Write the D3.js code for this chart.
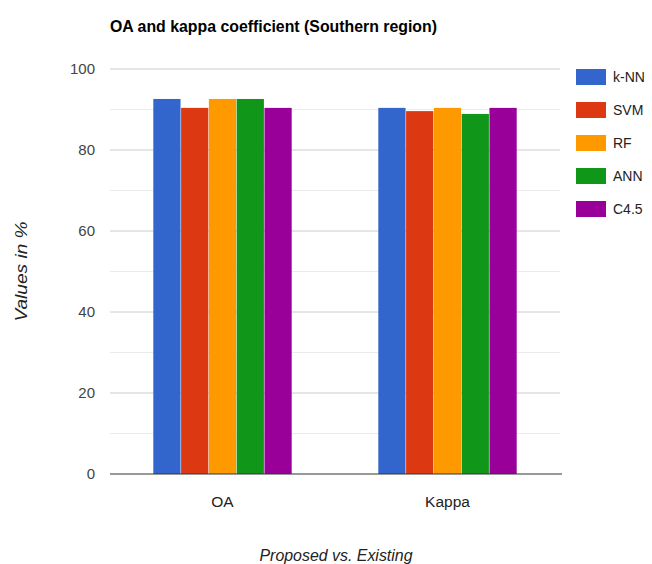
<!DOCTYPE html>
<html>
<head>
<meta charset="utf-8">
<script src="https://cdn.jsdelivr.net/npm/d3@7/dist/d3.min.js"></script>
<style>
  body { margin: 0; background: #fff; }
  svg { display: block; font-family: "Liberation Sans", Arial, sans-serif; }
</style>
</head>
<body>
<svg id="chart" width="652" height="564"></svg>
<script>
// Accuracy measures per classifier
const categories = ["OA", "Kappa"];
const seriesNames = ["k-NN", "SVM", "RF", "ANN", "C4.5"];
const seriesColors = ["#3366cc", "#dc3912", "#ff9900", "#109618", "#990099"];
const values = {
  "k-NN": [92.6, 90.4],
  "SVM":  [90.4, 89.6],
  "RF":   [92.6, 90.4],
  "ANN":  [92.6, 88.9],
  "C4.5": [90.4, 90.4]
};
const yTicks = [0, 20, 40, 60, 80, 100];
const yMinorTicks = [10, 30, 50, 70, 90];

const svg = d3.select("#chart");
const m = { left: 110, right: 92, top: 69, bottom: 90 };
const W = 652, H = 564;

const x0 = d3.scaleBand().domain(categories).range([m.left, W - m.right]).paddingInner(0).paddingOuter(0);
const x1 = d3.scaleBand().domain(seriesNames).range([0, x0.bandwidth() * 0.62]).padding(0.02);
const y = d3.scaleLinear().domain([0, 100]).range([H - m.bottom, m.top]);

// gridlines
svg.append("g").selectAll("line.minor").data(yMinorTicks).join("line")
  .attr("x1", m.left).attr("x2", W - m.right)
  .attr("y1", d => y(d)).attr("y2", d => y(d))
  .attr("stroke", "#ebebeb").attr("stroke-width", 1);
svg.append("g").selectAll("line.major").data(yTicks.filter(d => d > 0)).join("line")
  .attr("x1", m.left).attr("x2", W - m.right)
  .attr("y1", d => y(d)).attr("y2", d => y(d))
  .attr("stroke", "#cccccc").attr("stroke-width", 1);

// y tick labels
svg.append("g").selectAll("text").data(yTicks).join("text")
  .attr("x", m.left - 15).attr("y", d => y(d)).attr("dy", "0.35em")
  .attr("text-anchor", "end").attr("font-size", 15).attr("fill", "#444")
  .text(d => d);

// bars
const groups = svg.append("g").selectAll("g").data(categories).join("g")
  .attr("transform", c => `translate(${x0(c) + (x0.bandwidth() - x1.range()[1]) / 2},0)`);
groups.selectAll("rect").data((c, i) => seriesNames.map((s, k) => ({ s, v: values[s][i], color: seriesColors[k] }))).join("rect")
  .attr("x", d => x1(d.s)).attr("width", x1.bandwidth())
  .attr("y", d => y(d.v)).attr("height", d => y(0) - y(d.v))
  .attr("fill", d => d.color);

// baseline
svg.append("line").attr("x1", m.left).attr("x2", W - m.right + 2)
  .attr("y1", y(0)).attr("y2", y(0)).attr("stroke", "#333").attr("stroke-width", 1);

// category labels
svg.append("g").selectAll("text").data(categories).join("text")
  .attr("x", c => x0(c) + x0.bandwidth() / 2).attr("y", y(0) + 33)
  .attr("text-anchor", "middle").attr("font-size", 15.5).attr("fill", "#222")
  .text(c => c);

// title
svg.append("text").attr("x", 110).attr("y", 32)
  .attr("font-size", 16).attr("font-weight", "bold").attr("fill", "#000")
  .attr("textLength", 327).attr("lengthAdjust", "spacingAndGlyphs")
  .text("OA and kappa coefficient (Southern region)");

// axis titles
svg.append("text").attr("transform", `translate(27,${(y(0) + y(100)) / 2}) rotate(-90)`)
  .attr("text-anchor", "middle").attr("font-size", 16).attr("font-style", "italic").attr("fill", "#222")
  .attr("textLength", 100).attr("lengthAdjust", "spacingAndGlyphs")
  .text("Values in %");
svg.append("text").attr("x", 336).attr("y", 561)
  .attr("text-anchor", "middle").attr("font-size", 16.5).attr("font-style", "italic").attr("fill", "#222")
  .attr("textLength", 153).attr("lengthAdjust", "spacingAndGlyphs")
  .text("Proposed vs. Existing");

// legend
const legend = svg.append("g").selectAll("g").data(seriesNames).join("g")
  .attr("transform", (d, i) => `translate(576,${69 + i * 33})`);
legend.append("rect").attr("width", 30).attr("height", 16).attr("fill", (d, i) => seriesColors[i]);
legend.append("text").attr("x", 37).attr("y", 8).attr("dy", "0.35em")
  .attr("font-size", 14).attr("fill", "#222").text(d => d);
</script>
</body>
</html>
